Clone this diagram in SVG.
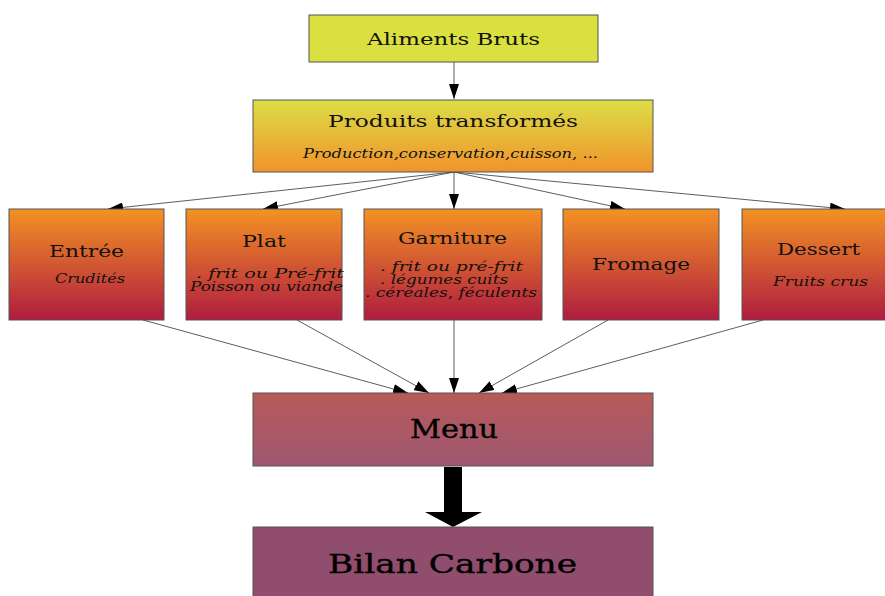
<svg xmlns="http://www.w3.org/2000/svg" width="885" height="596" viewBox="0 0 885 596">
<style>
.box{stroke:#555;stroke-width:1}
.t{font-family:"DejaVu Serif","Liberation Serif",serif;fill:#111}
.s{font-family:"DejaVu Serif","Liberation Serif",serif;font-style:italic;fill:#111;font-size:12px}
.b{stroke:#000;stroke-width:0.4;fill:#000}
.c{stroke:#333;stroke-width:0.8;fill:none;marker-end:url(#ah)}
</style>
<defs>
<marker id="ah" viewBox="0 0 15 10" refX="15" refY="5" markerWidth="15" markerHeight="10" markerUnits="userSpaceOnUse" orient="auto">
<path d="M0,0 L15,5 L0,10 Z" fill="#000"/>
</marker>
<linearGradient id="gP" x1="0" y1="0" x2="0" y2="1"><stop offset="0" stop-color="#dcde48"/><stop offset="1" stop-color="#f1932a"/></linearGradient>
<linearGradient id="gR" x1="0" y1="0" x2="0" y2="1"><stop offset="0" stop-color="#f39224"/><stop offset="1" stop-color="#b01c40"/></linearGradient>
<linearGradient id="gM" x1="0" y1="0" x2="0" y2="1"><stop offset="0" stop-color="#b85a5a"/><stop offset="1" stop-color="#9e5870"/></linearGradient>
</defs>
<rect width="885" height="596" fill="#fff"/>
<g id="connectors">
<line class="c" x1="454" y1="62" x2="454" y2="99"/>
<line class="c" x1="454" y1="172" x2="108" y2="209"/>
<line class="c" x1="454" y1="172" x2="263" y2="209"/>
<line class="c" x1="454" y1="172" x2="454" y2="209"/>
<line class="c" x1="454" y1="172" x2="625" y2="209"/>
<line class="c" x1="454" y1="172" x2="845" y2="209"/>
<line class="c" x1="143" y1="320" x2="408" y2="393"/>
<line class="c" x1="297" y1="320" x2="429" y2="393"/>
<line class="c" x1="454" y1="320" x2="454" y2="393"/>
<line class="c" x1="608" y1="320" x2="479" y2="393"/>
<line class="c" x1="763" y1="320" x2="502" y2="393"/>
<path d="M444,467 L462,467 L462,512 L482,512 L453,527 L425,512 L444,512 Z" fill="#000"/>
</g>
<g id="aliments">
<rect class="box" x="309" y="15" width="289" height="47" fill="#d9e03f"/>
<text class="t" x="453.5" y="45" font-size="17" text-anchor="middle" textLength="173" lengthAdjust="spacingAndGlyphs">Aliments Bruts</text>
</g>
<g id="produits">
<rect class="box" x="253" y="100" width="400" height="72" fill="url(#gP)"/>
<text class="t" x="453" y="127" font-size="17" text-anchor="middle" textLength="250" lengthAdjust="spacingAndGlyphs">Produits transformés</text>
<text class="s" x="450.5" y="158" text-anchor="middle" textLength="295" lengthAdjust="spacingAndGlyphs">Production,conservation,cuisson, ...</text>
</g>
<g id="entree">
<rect class="box" x="9" y="209" width="155" height="111" fill="url(#gR)"/>
<text class="t" x="86.5" y="257" font-size="17" text-anchor="middle" textLength="75" lengthAdjust="spacingAndGlyphs">Entrée</text>
<text class="s" x="90" y="283" text-anchor="middle" textLength="70" lengthAdjust="spacingAndGlyphs">Crudités</text>
</g>
<g id="plat">
<rect class="box" x="186" y="209" width="156" height="111" fill="url(#gR)"/>
<text class="t" x="264" y="247" font-size="17" text-anchor="middle" textLength="44" lengthAdjust="spacingAndGlyphs">Plat</text>
<text class="s" x="270" y="278" text-anchor="middle" textLength="148" lengthAdjust="spacingAndGlyphs">. frit ou Pré-frit</text>
<text class="s" x="266.5" y="291" text-anchor="middle" textLength="153" lengthAdjust="spacingAndGlyphs">Poisson ou viande</text>
</g>
<g id="garniture">
<rect class="box" x="364" y="209" width="178" height="111" fill="url(#gR)"/>
<text class="t" x="452.5" y="244" font-size="17" text-anchor="middle" textLength="109" lengthAdjust="spacingAndGlyphs">Garniture</text>
<text class="s" x="451.5" y="271" text-anchor="middle" textLength="143" lengthAdjust="spacingAndGlyphs">. frit ou pré-frit</text>
<text class="s" x="444" y="284" text-anchor="middle" textLength="128" lengthAdjust="spacingAndGlyphs">. légumes cuits</text>
<text class="s" x="451" y="297" text-anchor="middle" textLength="172" lengthAdjust="spacingAndGlyphs">. céréales, féculents</text>
</g>
<g id="fromage">
<rect class="box" x="563" y="209" width="156" height="111" fill="url(#gR)"/>
<text class="t" x="641" y="270" font-size="17" text-anchor="middle" textLength="98" lengthAdjust="spacingAndGlyphs">Fromage</text>
</g>
<g id="dessert">
<rect class="box" x="742" y="209" width="150" height="111" fill="url(#gR)"/>
<text class="t" x="818.5" y="255" font-size="17" text-anchor="middle" textLength="83" lengthAdjust="spacingAndGlyphs">Dessert</text>
<text class="s" x="820.5" y="286" text-anchor="middle" textLength="95" lengthAdjust="spacingAndGlyphs">Fruits crus</text>
</g>
<g id="menu">
<rect class="box" x="253" y="393" width="400" height="73" fill="url(#gM)"/>
<text class="t b" x="454" y="438" font-size="26" text-anchor="middle" textLength="88" lengthAdjust="spacingAndGlyphs">Menu</text>
</g>
<g id="bilan">
<rect class="box" x="253" y="527" width="400" height="75" fill="#914d6d"/>
<text class="t b" x="452.5" y="573" font-size="26" text-anchor="middle" textLength="249" lengthAdjust="spacingAndGlyphs">Bilan Carbone</text>
</g>
</svg>
